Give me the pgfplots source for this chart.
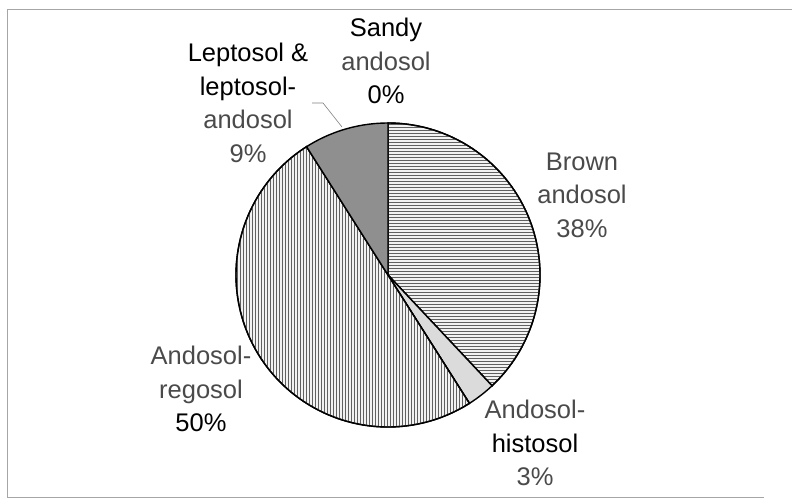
\documentclass[border=0pt]{standalone}
\usepackage{pgfplots}
\pgfplotsset{compat=1.18}
\usepackage{pgfplotstable}
\usepackage{fontspec}
\setmainfont{Liberation Sans}
\usetikzlibrary{patterns}
\definecolor{txtgray}{HTML}{4A4A4A}
\tikzset{lbl/.style={font=\fontsize{25.5}{33.5}\selectfont, align=center, text=txtgray, inner sep=0pt}}

\pgfplotstableread{
soil pct
Brown 38
Histosol 3
Regosol 50
Leptosol 9
Sandy 0
}\soils

\begin{document}
\begin{tikzpicture}
\useasboundingbox (0,0) rectangle (792pt,500pt);
\pgfplotstablegetelem{0}{pct}\of\soils \edef\pA{\pgfplotsretval}
\pgfplotstablegetelem{1}{pct}\of\soils \edef\pB{\pgfplotsretval}
\pgfplotstablegetelem{2}{pct}\of\soils \edef\pC{\pgfplotsretval}
\pgfplotstablegetelem{3}{pct}\of\soils \edef\pD{\pgfplotsretval}
\pgfmathsetmacro{\aA}{90}
\pgfmathsetmacro{\aB}{\aA-3.6*\pA}
\pgfmathsetmacro{\aC}{\aB-3.6*\pB}
\pgfmathsetmacro{\aD}{\aC-3.6*\pC}
\pgfmathsetmacro{\aE}{\aD-3.6*\pD}
\def\cx{388}\def\cy{275}\def\rr{152}
\begin{axis}[
  at={(0,0)}, anchor=south west,
  scale only axis, width=792pt, height=500pt,
  xmin=0, xmax=792, ymin=0, ymax=500, y dir=reverse,
  axis lines=none, clip=false,
]
% frame
\addplot[gray!70, line width=1pt] coordinates {(7,497) (7,10) (792,10)};
\addplot[gray!70, line width=1pt] coordinates {(7,497) (764,497)};
% slices
\addplot[draw=black, line width=1.4pt, fill=gray!10, postaction={pattern=horizontal lines, pattern color=gray!75!black}, domain=\aB:\aA, samples=120, variable=\t]
  ({\cx+\rr*cos(\t)},{\cy-\rr*sin(\t)}) -- (axis cs:\cx,\cy) -- cycle;
\addplot[draw=black, line width=1.4pt, fill=gray!28, domain=\aC:\aB, samples=20, variable=\t]
  ({\cx+\rr*cos(\t)},{\cy-\rr*sin(\t)}) -- (axis cs:\cx,\cy) -- cycle;
\addplot[draw=black, line width=1.4pt, fill=gray!10, postaction={pattern=vertical lines, pattern color=gray!75!black}, domain=\aD:\aC, samples=150, variable=\t]
  ({\cx+\rr*cos(\t)},{\cy-\rr*sin(\t)}) -- (axis cs:\cx,\cy) -- cycle;
\addplot[draw=black, line width=1.4pt, fill=gray!88, domain=\aE:\aD, samples=40, variable=\t]
  ({\cx+\rr*cos(\t)},{\cy-\rr*sin(\t)}) -- (axis cs:\cx,\cy) -- cycle;
% leader line
\addplot[gray, line width=0.6pt] coordinates {(312,103) (323,103) (342,127)};
% labels
\node[lbl] at (axis cs:386,61) {\textcolor{black}{Sandy}\\andosol\\\textcolor{black}{0\%}};
\node[lbl] at (axis cs:248,103) {\textcolor{black}{Leptosol \&}\\\textcolor{black}{leptosol-}\\andosol\\9\%};
\node[lbl] at (axis cs:582,195) {Brown\\andosol\\38\%};
\node[lbl] at (axis cs:201,389) {Andosol-\\regosol\\\textcolor{black}{50\%}};
\node[lbl] at (axis cs:535,443) {Andosol-\\\textcolor{black}{histosol}\\3\%};
\end{axis}
\end{tikzpicture}
\end{document}
